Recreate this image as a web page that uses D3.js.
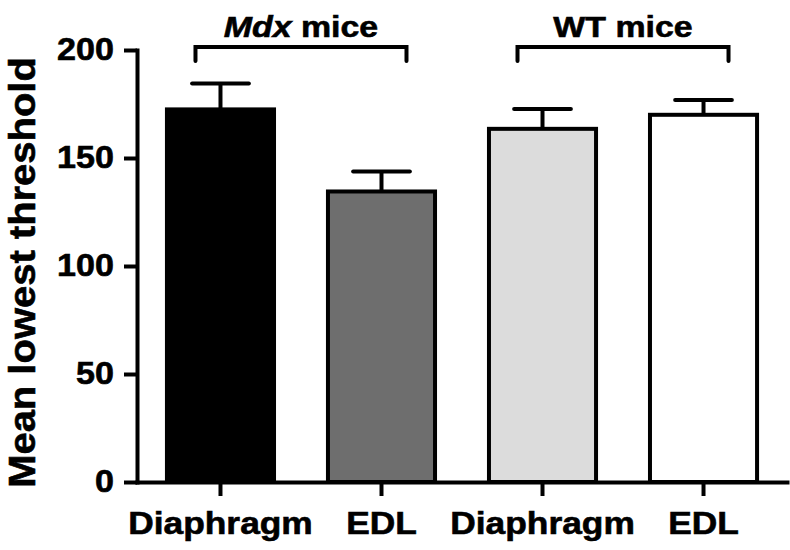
<!DOCTYPE html>
<html>
<head>
<meta charset="utf-8">
<script src="https://cdn.jsdelivr.net/npm/d3@7"></script>
<style>
  html, body { margin: 0; padding: 0; background: #fff; }
  svg text { font-family: "Liberation Sans", Arial, Helvetica, sans-serif; font-weight: bold; fill: #000; stroke: #000; stroke-width: 0.6px; }
</style>
</head>
<body>
<svg id="chart" width="790" height="550"></svg>
<script>
// ---- data ----
const categories = ["Diaphragm", "EDL", "Diaphragm", "EDL"];
const groupNames = ["Mdx", "Mdx", "WT", "WT"];
const means = [172.5, 134.5, 163.5, 170];
const sems = [12, 9.2, 9.2, 6.8];
const fills = ["#000000", "#6e6e6e", "#dcdcdc", "#ffffff"];
const yTicks = [0, 50, 100, 150, 200];
const brackets = [
  { label: "Mdx", suffix: " mice", italic: true, from: 0, to: 1 },
  { label: "WT", suffix: " mice", italic: false, from: 2, to: 3 }
];
const yTitle = "Mean lowest threshold";

// ---- layout ----
const svg = d3.select("#chart");
const idx = categories.map((d, i) => i);

const x = d3.scaleBand()
  .domain(idx)
  .range([137, 787])
  .paddingInner(0.335)
  .paddingOuter(0.186);

const y = d3.scaleLinear().domain([0, 200]).range([482, 50]);

const SW = 4;

function widen(sel, factor) {
  sel.each(function () {
    const w = this.getComputedTextLength();
    d3.select(this).attr("textLength", w * factor).attr("lengthAdjust", "spacingAndGlyphs");
  });
}

// bars
svg.append("g").selectAll("rect")
  .data(idx)
  .join("rect")
  .attr("x", i => x(i))
  .attr("y", i => y(means[i]))
  .attr("width", x.bandwidth())
  .attr("height", i => y(0) - y(means[i]))
  .attr("fill", i => fills[i])
  .attr("stroke", "#000")
  .attr("stroke-width", SW);

// error bars (upper only)
const eg = svg.append("g").attr("stroke", "#000").attr("stroke-width", SW);
const capHalf = x.bandwidth() * 0.265;
idx.forEach(i => {
  const cx = x(i) + x.bandwidth() / 2;
  eg.append("line")
    .attr("x1", cx).attr("x2", cx)
    .attr("y1", y(means[i])).attr("y2", y(means[i] + sems[i]));
  eg.append("line")
    .attr("x1", cx - capHalf).attr("x2", cx + capHalf)
    .attr("y1", y(means[i] + sems[i])).attr("y2", y(means[i] + sems[i]))
    .attr("stroke-linecap", "round");
});

// axes
const yAxis = d3.axisLeft(y).tickValues(yTicks).tickSize(13).tickSizeOuter(0).tickPadding(10);
const gy = svg.append("g").attr("transform", "translate(137,0)").call(yAxis);
const xAxis = d3.axisBottom(x).tickSize(14).tickSizeOuter(0).tickPadding(16)
  .tickFormat(i => categories[i]);
const gx = svg.append("g").attr("transform", "translate(0,482)").call(xAxis);

[gy, gx].forEach(g => {
  g.selectAll("path.domain").attr("stroke", "#000").attr("stroke-width", SW).attr("stroke-linecap", "square");
  g.selectAll(".tick line").attr("stroke", "#000").attr("stroke-width", SW);
  g.selectAll("text").attr("fill", "#000").attr("stroke", "#000").attr("stroke-width", 0.6)
    .style("font-family", "'Liberation Sans', Arial, sans-serif").style("font-weight", "bold");
});
gy.selectAll("text").style("font-size", "31px");
gx.selectAll("text").style("font-size", "31px");
widen(gy.selectAll("text"), 1.1);
widen(gx.selectAll("text"), 1.14);

// y title
const yt = svg.append("text")
  .attr("transform", "translate(35,272.5) rotate(-90)")
  .attr("text-anchor", "middle")
  .style("font-size", "37px")
  .text(yTitle);
widen(yt, 1.08);

// group brackets
const bg = svg.append("g");
brackets.forEach(b => {
  const x1 = x(b.from) + x.bandwidth() / 2 - 25;
  const x2 = x(b.to) + x.bandwidth() / 2 + 25;
  bg.append("path")
    .attr("d", `M${x1},61V47H${x2}V61`)
    .attr("fill", "none")
    .attr("stroke", "#000")
    .attr("stroke-width", SW)
    .attr("stroke-linecap", "round");
  const t = bg.append("text")
    .attr("x", (x1 + x2) / 2)
    .attr("y", 37)
    .attr("text-anchor", "middle")
    .style("font-size", "30px");
  t.append("tspan").style("font-style", b.italic ? "italic" : "normal").text(b.label);
  t.append("tspan").text(b.suffix);
  widen(t, 1.13);
});
</script>
</body>
</html>
